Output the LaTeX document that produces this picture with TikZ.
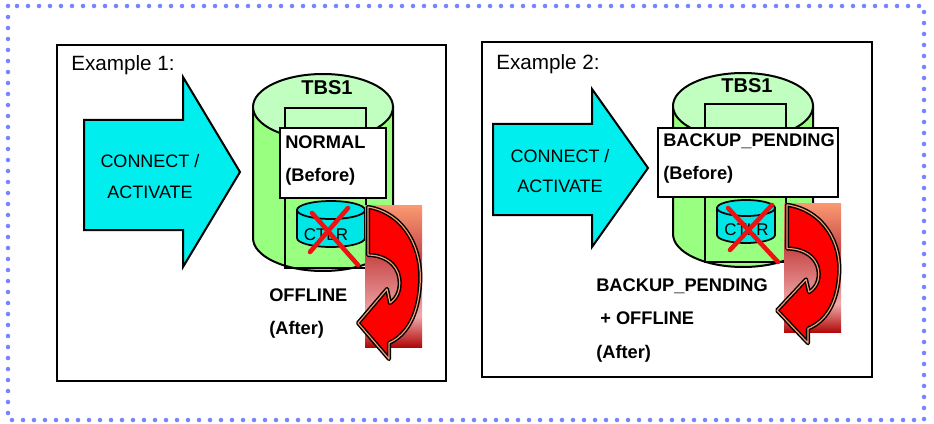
\documentclass[tikz,border=0pt]{standalone}
\usepackage{fontspec}
\setmainfont{Liberation Sans}
\definecolor{dotblue}{HTML}{7585FF}
\definecolor{arrowcyan}{HTML}{00EEEE}
\definecolor{diskgreen}{HTML}{99FF80}
\definecolor{disklight}{HTML}{C0FFC0}
\definecolor{ctlrcyan}{HTML}{00E6E6}
\definecolor{crossred}{HTML}{EE1111}
\definecolor{usalmon}{HTML}{FA9A72}
\definecolor{ured}{HTML}{FF0000}
\definecolor{upink}{HTML}{F0AAAA}
\definecolor{ured2}{HTML}{C84848}
\definecolor{udark}{HTML}{B00808}
\pgfdeclareverticalshading{uturnback}{100bp}{color(0bp)=(udark); color(25bp)=(udark); color(36bp)=(upink); color(57bp)=(ured2); color(75bp)=(usalmon); color(100bp)=(usalmon)}
\begin{document}
\begin{tikzpicture}[x=0.75pt, y=-0.75pt,
    dotframe/.style={draw=dotblue, line width=3.4pt, line cap=round, dash pattern=on 0pt off 8.25pt},
    exbox/.style={draw=black, line width=1.9pt},
    blockarrow/.style={draw=black, line width=1.5pt, fill=arrowcyan, line join=miter},
    diskbody/.style={draw=black, line width=1.5pt, fill=diskgreen},
    disktop/.style={draw=black, line width=1.5pt, fill=disklight},
    diskline/.style={draw=black, line width=1.5pt},
    statebox/.style={draw=black, line width=1.5pt, fill=white},
    ctlrbody/.style={draw=black, line width=1.3pt, fill=ctlrcyan},
    redcross/.style={draw=crossred, line width=3.4pt, line cap=round},
    uturn/.style={fill=ured, draw=black, line width=1.1pt, double=usalmon, double distance=0.9pt, line join=round},
    plain/.style={font=\fontsize{13.5}{16}\selectfont, inner sep=0pt, anchor=base},
    exlabel/.style={font=\fontsize{15.5}{18}\selectfont, inner sep=0pt, anchor=base west},
    state/.style={font=\bfseries\fontsize{13.7}{16}\selectfont, inner sep=0pt, anchor=base west},
    disklabel/.style={font=\bfseries\fontsize{15}{18}\selectfont, inner sep=0pt, anchor=base},
    ctlrlabel/.style={font=\fontsize{12.7}{15}\selectfont, inner sep=0pt, anchor=base}]
  \useasboundingbox (0,0) rectangle (934,424);
  \draw[dotframe] (8,6) rectangle (924,420);

  \draw[exbox] (57,45) rectangle (446,381);
  \draw[exbox] (482,42) rectangle (872,377);
  \node[exlabel] (ex1) at (71,71) {Example 1:};
  \node[exlabel] (ex2) at (496,70) {Example 2:};

  \draw[blockarrow] (84,120) -- (183,120) -- (183,77) -- (240,172) -- (183,267) -- (183,230) -- (84,230) -- cycle;
  \node[plain] (connect1) at (150,167) {CONNECT /};
  \node[plain] (activate1) at (150,198) {ACTIVATE};
  \draw[blockarrow] (493,124) -- (592,124) -- (592,89) -- (648,168) -- (592,247) -- (592,215) -- (493,215) -- cycle;
  \node[plain] (connect2) at (560,162) {CONNECT /};
  \node[plain] (activate2) at (560,192) {ACTIVATE};

  \filldraw[diskbody] (253,107) -- (253,238) arc[start angle=180, end angle=0, x radius=70, y radius=33] -- (393,107) -- cycle;
  \filldraw[disktop] (323,107) ellipse [x radius=70, y radius=33];
  \draw[diskline] (285,108) rectangle (366,268);
  \node[disklabel] (tbs1) at (327,95) {TBS1};
  \filldraw[statebox] (280,128) rectangle (386,198);
  \node[state] (normal) at (285,148.5) {NORMAL};
  \node[state] (before1) at (285,181.5) {(Before)};
  \filldraw[ctlrbody] (297,210) -- (297,238) arc[start angle=180, end angle=0, x radius=34, y radius=9] -- (365,210) -- cycle;
  \filldraw[ctlrbody] (331,210) ellipse [x radius=34, y radius=9];
  \node[ctlrlabel] (ctlr1) at (326,240) {CTLR};
  \draw[redcross] (310,252) -- (348,208) (312,213) -- (358,265);
  \node[state] (offline1) at (269,301.5) {OFFLINE};
  \node[state] (after1) at (269,334.5) {(After)};

  \filldraw[diskbody] (673,106) -- (673,234) arc[start angle=180, end angle=0, x radius=70, y radius=33] -- (813,106) -- cycle;
  \filldraw[disktop] (743,106) ellipse [x radius=70, y radius=33];
  \draw[diskline] (705,104) rectangle (786,262);
  \node[disklabel] (tbs2) at (747,93) {TBS1};
  \filldraw[statebox] (658,128) rectangle (838,197);
  \node[state] (pending1) at (663,146.5) {BACKUP\_PENDING};
  \node[state] (before2) at (663,179.5) {(Before)};
  \filldraw[ctlrbody] (717,208) -- (717,235) arc[start angle=180, end angle=0, x radius=29, y radius=8] -- (775,208) -- cycle;
  \filldraw[ctlrbody] (746,208) ellipse [x radius=29, y radius=8];
  \node[ctlrlabel] (ctlr2) at (746.5,235) {CTLR};
  \draw[redcross] (730,250) -- (772,205) (728,208) -- (778,262);
  \node[state] (pending2) at (596,291.5) {BACKUP\_PENDING};
  \node[state] (offline2) at (600,324.5) {+ OFFLINE};
  \node[state] (after2) at (596,358.5) {(After)};

  \foreach \ox/\oy/\sy in {365/205/1, 784/203/0.91}
  {
    \begin{scope}[shift={(\ox,\oy)}, yscale=\sy]
      \shade[shading=uturnback] (0,0) rectangle (57,142);
      \filldraw[uturn] (3,2) .. controls (40,8) and (58,45) .. (55,80)
        .. controls (53,110) and (42,130) .. (24,138) -- (24,154) -- (-7,118) -- (22,84) -- (25,98)
        .. controls (34,92) and (37,80) .. (33,68) .. controls (28,55) and (15,50) .. (3,50) -- cycle;
    \end{scope}
  }
\end{tikzpicture}
\end{document}
